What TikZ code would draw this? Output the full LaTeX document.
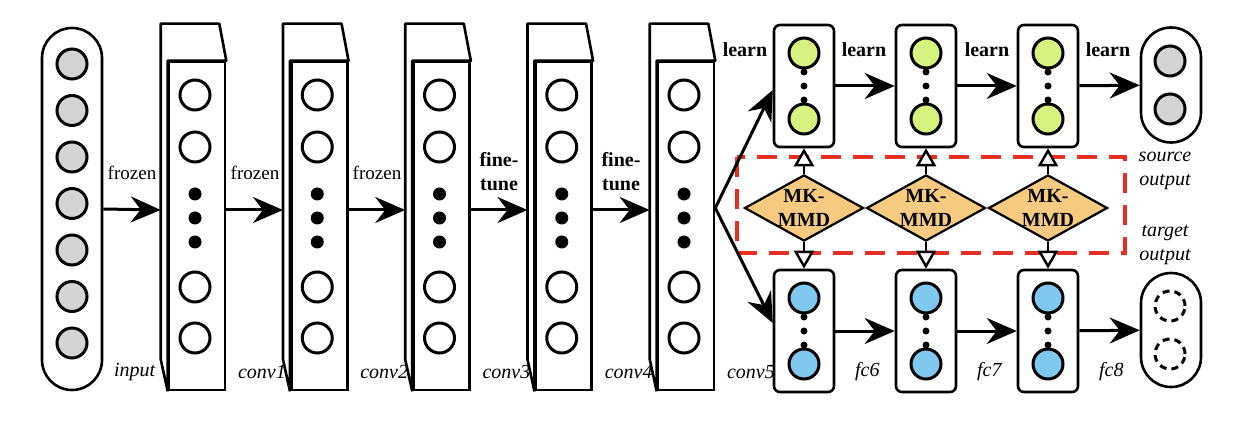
\documentclass[tikz,border=0pt]{standalone}
\usepackage{fontspec}
\setmainfont{Liberation Serif}
\usetikzlibrary{arrows.meta,shapes.geometric}

\definecolor{srcgreen}{RGB}{216,242,128}
\definecolor{tgtblue}{RGB}{128,200,240}
\definecolor{mmdorange}{RGB}{246,202,128}
\definecolor{unitgray}{RGB}{212,212,212}
\definecolor{boxred}{RGB}{232,45,35}

\tikzset{
  layer/.style={draw, line width=1.3pt, fill=white, minimum width=28pt, minimum height=164pt, inner sep=0pt},
  fcbox/.style={draw, line width=1.3pt, rounded corners=3pt, minimum width=30pt, minimum height=61pt, inner sep=0pt},
  capsule/.style={draw, line width=1.3pt, rounded corners=15pt, minimum width=30pt, inner sep=0pt},
  unit/.style={circle, draw, line width=1.5pt, minimum size=15pt, inner sep=0pt},
  dot/.style={circle, fill=black, minimum size=6.5pt, inner sep=0pt},
  smalldot/.style={circle, fill=black, minimum size=3.5pt, inner sep=0pt},
  mmd/.style={diamond, draw, line width=1.1pt, fill=mmdorange, aspect=1.8, minimum width=59pt, minimum height=33pt, inner sep=0pt, align=center, font=\bfseries},
  flow/.style={-{Stealth[length=15pt,width=13pt,inset=5pt]}, line width=1.5pt},
  link/.style={-{Triangle[fill=white,length=9pt,width=10pt]}, line width=1.2pt},
  lab/.style={font=\itshape},
  note/.style={font=\bfseries, align=center}
}

\begin{document}
\begin{tikzpicture}[x=0.5pt, y=-0.5pt, font=\fontsize{9.5}{11}\selectfont]
  \useasboundingbox (0,0) rectangle (1252,438);

  % input layer
  \node[capsule, minimum height=181pt] (input) at (72,209) {};
  \foreach \i in {0,...,6}
    \node[unit, fill=unitgray] (in\i) at (72,64+46.5*\i) {};
  \node[lab, anchor=west] (inlab) at (107,372) {input};

  % convolution layers
  \foreach \i in {1,...,5} {
    \pgfmathsetmacro{\cx}{197+122.25*(\i-1)}
    \node[layer] (conv\i) at (\cx,226) {};
    \draw[line width=1.3pt, line join=round, fill=white] (conv\i.south west) -- ++(-7,-32)
      -- ([shift={(-7,-37)}]conv\i.north west) -- ([shift={(-7,-37)}]conv\i.north east)
      -- (conv\i.north east) -- (conv\i.north west) -- (conv\i.south west);
    \foreach \y/\k in {95/1,147/2,287/3,338/4}
      \node[unit] (u\i\k) at (\cx-2,\y) {};
    \foreach \y/\k in {194/1,218/2,242/3}
      \node[dot] (d\i\k) at (\cx-2,\y) {};
    \node[lab, anchor=west] (convlab\i) at (\cx+34,372) {conv\i};
  }

  \draw[flow] (input.east) -- ([xshift=-3.5pt,yshift=8pt]conv1.west);
  \foreach \i/\j in {1/2,2/3,3/4,4/5}
    \draw[flow] ([yshift=8pt]conv\i.east) -- ([xshift=-3.5pt,yshift=8pt]conv\j.west);

  \node (fz1) at (132,173) {frozen};
  \node (fz2) at (255,173) {frozen};
  \node (fz3) at (377,173) {frozen};
  \node[note] (ft4) at (499,172) {fine-\\tune};
  \node[note] (ft5) at (621,172) {fine-\\tune};

  % MK-MMD region
  \draw[boxred, line width=2pt, dash pattern=on 10pt off 6pt] (737,157) rectangle (1125,253);

  % fully connected layers
  \foreach \n/\x in {6/804,7/926,8/1048} {
    \node[fcbox] (src\n) at (\x,86) {};
    \node[fcbox] (tgt\n) at (\x,331) {};
    \node[unit, fill=srcgreen] (srca\n) at (\x,53) {};
    \node[unit, fill=srcgreen] (srcb\n) at (\x,119) {};
    \node[unit, fill=tgtblue] (tgta\n) at (\x,298) {};
    \node[unit, fill=tgtblue] (tgtb\n) at (\x,364) {};
    \foreach \k/\m in {-14/1,0/2,14/3} {
      \node[smalldot] (sd\n\m) at (\x,86+\k) {};
      \node[smalldot] (td\n\m) at (\x,331+\k) {};
    }
    \node[mmd] (mmd\n) at (\x,208) {MK-\\MMD};
    \draw[link] (mmd\n.north) -- (src\n.south);
    \draw[link] (mmd\n.south) -- (tgt\n.north);
    \node[lab, anchor=west] (fclab\n) at (\x+44,372) {fc\n};
  }

  % outputs
  \node[capsule, minimum height=57.5pt] (srcout) at (1171,85) {};
  \node[capsule, minimum height=57pt] (tgtout) at (1171,330) {};
  \node[unit, fill=unitgray] (so1) at (1170,61) {};
  \node[unit, fill=unitgray] (so2) at (1170,109) {};
  \node[unit, dash pattern=on 3.5pt off 2.5pt] (to1) at (1170,306) {};
  \node[unit, dash pattern=on 3.5pt off 2.5pt] (to2) at (1170,354) {};
  \node[lab, align=center] (srclab) at (1165,171) {source\\output};
  \node[lab, align=center] (tgtlab) at (1165,245) {target\\output};

  \draw[flow] ([yshift=9pt]conv5.east) -- ([yshift=-2pt]src6.west);
  \draw[flow] ([yshift=9pt]conv5.east) -- ([yshift=4pt]tgt6.west);
  \draw[flow] (src6) -- (src7);
  \draw[flow] (src7) -- (src8);
  \draw[flow] (src8) -- (srcout);
  \draw[flow] (tgt6) -- (tgt7);
  \draw[flow] (tgt7) -- (tgt8);
  \draw[flow] (tgt8) -- (tgtout);

  \node[note] (ln1) at (745,50) {learn};
  \node[note] (ln2) at (864,50) {learn};
  \node[note] (ln3) at (987,50) {learn};
  \node[note] (ln4) at (1108,50) {learn};
\end{tikzpicture}
\end{document}
